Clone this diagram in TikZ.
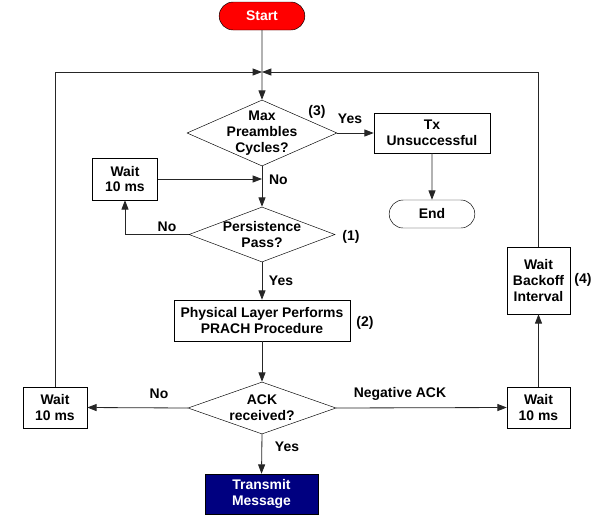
\documentclass[tikz,border=0pt]{standalone}
\usepackage{fontspec}
\setmainfont{Liberation Sans}
\usetikzlibrary{shapes.geometric,shapes.misc,arrows.meta}
\definecolor{startred}{RGB}{255,0,0}
\definecolor{msgblue}{RGB}{0,0,128}
\tikzset{
  every node/.style={font=\fontsize{11.9}{13.6}\selectfont\bfseries, align=center},
  box/.style={draw, rectangle, inner sep=1pt},
  term/.style={draw, rounded rectangle, minimum width=2.64cm, minimum height=0.84cm, inner sep=1pt},
  decision/.style={draw, diamond, inner sep=0pt},
  flow/.style={draw=black!85, line width=0.7pt},
  loopline/.style={draw=black!55, line width=1.3pt},
  tip/.style={-{Triangle[length=8pt,width=6pt]}}
}
\begin{document}
\begin{tikzpicture}[x=0.03cm,y=-0.03cm]
\useasboundingbox (0,0) rectangle (607,518);
\node[term, fill=startred, text=white] (start) at (262,16) {Start};
\coordinate (merge) at (262,72);
\node[decision, minimum width=4.5cm, minimum height=1.98cm,
  label={center:Max\\Preambles\\Cycles?}] (max) at (262,133) {};
\node[box, minimum width=3.48cm, minimum height=1.2cm] (txfail) at (432,133) {Tx\\Unsuccessful};
\node[term, fill=white] (end) at (432,214) {End};
\node[box, minimum width=1.95cm, minimum height=1.26cm] (waita) at (125,179) {Wait\\10 ms};
\node[decision, minimum width=4.38cm, minimum height=1.65cm,
  label={center:Persistence\\Pass?}] (pers) at (262,234.5) {};
\node[box, minimum width=5.28cm, minimum height=1.23cm] (prach) at (262,320.5) {Physical Layer Performs\\PRACH Procedure};
\node[decision, minimum width=4.44cm, minimum height=1.56cm,
  label={center:ACK\\received?}] (ack) at (262,408) {};
\node[box, fill=msgblue, text=white, minimum width=3.39cm, minimum height=1.2cm] (txmsg) at (261.5,494) {Transmit\\Message};
\node[box, minimum width=1.92cm, minimum height=1.23cm] (waitb) at (55,407.5) {Wait\\10 ms};
\node[box, minimum width=1.89cm, minimum height=1.23cm] (waitc) at (538.5,407.5) {Wait\\10 ms};
\node[box, minimum width=1.89cm, minimum height=2.01cm] (backoff) at (538.5,280.5) {Wait\\Backoff\\Interval};

% labels
\node (n3) at (317,112) {(3)};
\node (yesa) at (350,119) {Yes};
\node[anchor=west] (noa) at (265,180) {No};
\node (nob) at (167,227) {No};
\node (n1) at (351,237) {(1)};
\node (yesb) at (281,281) {Yes};
\node (n2) at (365,323) {(2)};
\node (noc) at (159,394) {No};
\node (nack) at (400,394) {Negative ACK};
\node (yesc) at (287,447) {Yes};
\node (n4) at (583,280) {(4)};

% connectors
\draw[flow,tip] (start) -- (max);
\draw[loopline,flow,tip] (waitb.north) |- (merge);
\draw[loopline,flow,tip] (backoff.north) |- (merge);
\draw[flow,tip] (max.east) -- (txfail.west);
\draw[flow,tip] (txfail) -- (end);
\draw[flow,tip] (max.south) -- (pers.north);
\draw[flow,tip] (waita.east) -- (waita.east -| max.south);
\draw[flow,tip] (pers.west) -| (waita.south);
\draw[flow,tip] (pers.south) -- (prach.north);
\draw[flow,tip] (prach.south) -- (ack.north);
\draw[flow,tip] (ack.west) -- (waitb.east);
\draw[flow,tip] (ack.east) -- (waitc.west);
\draw[flow,tip] (waitc.north) -- (backoff.south);
\draw[flow,tip] (ack.south) -- (txmsg.north);
\end{tikzpicture}
\end{document}
